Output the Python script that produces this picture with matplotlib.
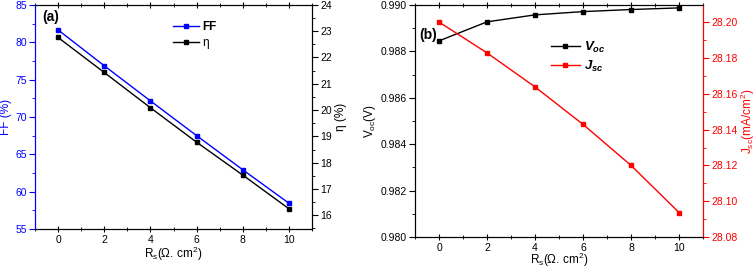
import matplotlib.pyplot as plt
from matplotlib.ticker import MultipleLocator, FormatStrFormatter

plt.rcParams['font.family'] = ['Liberation Sans', 'DejaVu Sans']
plt.rcParams['font.size'] = 7.5
plt.rcParams['mathtext.fontset'] = 'custom'
plt.rcParams['mathtext.rm'] = 'Liberation Sans'
plt.rcParams['mathtext.it'] = 'Liberation Sans:italic:bold'
plt.rcParams['mathtext.bf'] = 'Liberation Sans:bold'

# series resistance (ohm cm2)
rs = [0, 2, 4, 6, 8, 10]

# panel (a)
ff = [81.65, 76.85, 72.15, 67.5, 62.93, 58.45]
eta = [22.76, 21.43, 20.09, 18.78, 17.53, 16.25]

# panel (b)
voc = [0.98845, 0.98927, 0.98957, 0.98971, 0.98980, 0.98987]
jsc = [28.200, 28.1828, 28.1638, 28.1429, 28.1200, 28.0937]

BLUE = '#0000ff'
RED = '#ff0000'
xlabel = r'R$_\mathregular{s}$($\mathregular{\Omega}$. cm$^\mathregular{2}$)'


def style_x(ax, pad=2, labelpad=0):
    ax.set_xlim(-1, 11)
    ax.xaxis.set_major_locator(MultipleLocator(2))
    ax.xaxis.set_minor_locator(MultipleLocator(1))
    ax.tick_params(axis='x', which='both', top=True, direction='inout')
    ax.tick_params(axis='x', which='major', length=5, pad=pad)
    ax.tick_params(axis='x', which='minor', length=3)
    ax.set_xlabel(xlabel, fontsize=8.5, labelpad=labelpad)


fig = plt.figure(figsize=(7.56, 2.71), dpi=100)

# ---------- (a) ----------
ax1 = fig.add_axes([0.0463, 0.155, 0.3664, 0.827])
ax1.plot(rs, ff, color=BLUE, marker='s', ms=3.5, lw=1, label='FF')
ax1.set_ylim(55, 85)
ax1.yaxis.set_major_locator(MultipleLocator(5))
ax1.yaxis.set_minor_locator(MultipleLocator(2.5))
style_x(ax1)
ax1.set_ylabel('FF (%)', color=BLUE, fontsize=8.5, labelpad=2)
ax1.tick_params(axis='y', which='both', colors=BLUE, direction='out')
ax1.tick_params(axis='y', which='major', length=4, pad=2)
ax1.tick_params(axis='y', which='minor', length=2.5)
ax1.spines['left'].set_color(BLUE)

ax1b = ax1.twinx()
ax1b.plot(rs, eta, color='black', marker='s', ms=3.5, lw=1, label='η')
ax1b.set_ylim(15.48, 24)
ax1b.yaxis.set_major_locator(MultipleLocator(1))
ax1b.yaxis.set_minor_locator(MultipleLocator(0.5))
ax1b.tick_params(axis='y', which='both', direction='out')
ax1b.tick_params(axis='y', which='major', length=4, pad=2)
ax1b.tick_params(axis='y', which='minor', length=2.5)
ax1b.set_ylabel('η (%)', fontsize=8.5, labelpad=2)
ax1b.spines['left'].set_color(BLUE)

h1, l1 = ax1.get_legend_handles_labels()
h2, l2 = ax1b.get_legend_handles_labels()
leg = ax1b.legend(h1 + h2, l1 + l2, loc='upper left', bbox_to_anchor=(0.46, 0.975),
                  frameon=False, handlelength=2.2, handletextpad=0.3,
                  labelspacing=0.35, fontsize=8.5)
leg.get_texts()[0].set_fontweight('bold')
ax1.text(0.025, 0.975, '(a)', transform=ax1.transAxes, fontsize=10,
         fontweight='bold', va='top')

# ---------- (b) ----------
ax2 = fig.add_axes([0.549, 0.125, 0.381, 0.857])
ax2.plot(rs, voc, color='black', marker='s', ms=3.5, lw=1, label=r'$V_{oc}$')
ax2.set_ylim(0.980, 0.990)
ax2.yaxis.set_major_locator(MultipleLocator(0.002))
ax2.yaxis.set_minor_locator(MultipleLocator(0.001))
ax2.yaxis.set_major_formatter(FormatStrFormatter('%.3f'))
style_x(ax2, pad=1.5, labelpad=-1)
ax2.tick_params(axis='y', which='both', direction='out')
ax2.tick_params(axis='y', which='major', length=4, pad=2)
ax2.tick_params(axis='y', which='minor', length=2.5)
ax2.set_ylabel(r'V$_\mathregular{oc}$(V)', fontsize=8.5, labelpad=2)

ax2b = ax2.twinx()
ax2b.plot(rs, jsc, color=RED, marker='s', ms=3.5, lw=1, label=r'$J_{sc}$')
ax2b.set_ylim(28.08, 28.2096)
ax2b.yaxis.set_major_locator(MultipleLocator(0.02))
ax2b.yaxis.set_minor_locator(MultipleLocator(0.01))
ax2b.yaxis.set_major_formatter(FormatStrFormatter('%.2f'))
ax2b.tick_params(axis='y', which='both', colors=RED, direction='out')
ax2b.tick_params(axis='y', which='major', length=4, pad=2)
ax2b.tick_params(axis='y', which='minor', length=2.5)
ax2b.spines['right'].set_color(RED)
ax2b.set_ylabel(r'J$_\mathregular{sc}$(mA/cm$^\mathregular{2}$)', color=RED,
                fontsize=8.5, labelpad=1)

h1, l1 = ax2.get_legend_handles_labels()
h2, l2 = ax2b.get_legend_handles_labels()
leg2 = ax2b.legend(h1 + h2, l1 + l2, loc='upper left', bbox_to_anchor=(0.43, 0.9),
                   frameon=False, handlelength=2.2, handletextpad=0.3,
                   labelspacing=0.3, fontsize=9.5)
ax2.text(0.015, 0.9, '(b)', transform=ax2.transAxes, fontsize=10,
         fontweight='bold', va='top')

fig.savefig('out.png', dpi=100)
